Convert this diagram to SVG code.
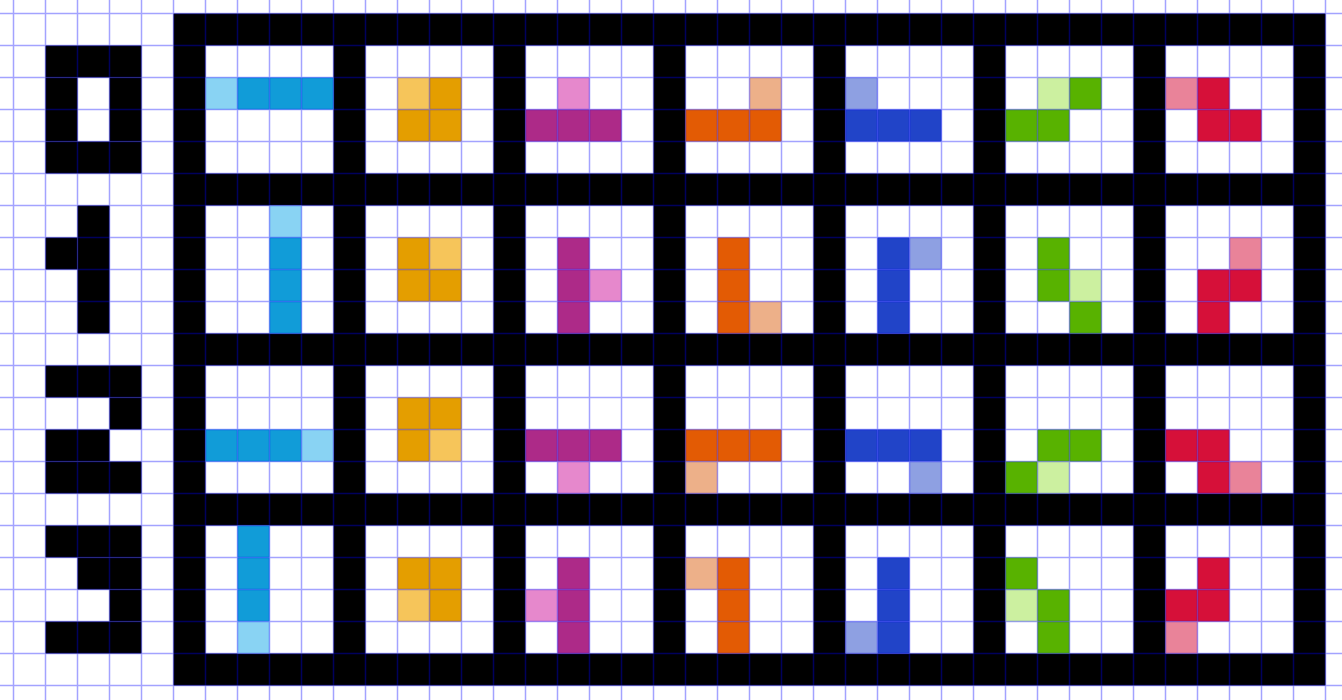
<svg xmlns="http://www.w3.org/2000/svg" width="1342" height="700" viewBox="0 0 1342 700">
<style>
.k{fill:#000}
.w{fill:#fff}
.Im{fill:#119cd8}.Il{fill:#89d3f3}
.Om{fill:#e49e00}.Ol{fill:#f6c55a}
.Tm{fill:#ad2a88}.Tl{fill:#e688cc}
.Lm{fill:#e35b04}.Ll{fill:#edb089}
.Jm{fill:#2144c8}.Jl{fill:#8ea0e2}
.Sm{fill:#58b200}.Sl{fill:#ccf0a0}
.Zm{fill:#d61039}.Zl{fill:#e98399}
.grid{fill:none;stroke:#0000ff;stroke-opacity:0.36;stroke-width:1.5}
</style>
<defs>
<rect id="c" width="32" height="32"/>
</defs>
<rect width="1342" height="700" fill="#fff"/>
<g id="digits" class="k">
<g id="digit0"><rect x="45.5" y="45.5" width="96" height="32"/><rect x="45.5" y="141.5" width="96" height="32"/><rect x="45.5" y="77.5" width="32" height="64"/><rect x="109.5" y="77.5" width="32" height="64"/></g>
<g id="digit1"><rect x="77.5" y="205.5" width="32" height="128"/><rect x="45.5" y="237.5" width="32" height="32"/></g>
<g id="digit2"><rect x="45.5" y="365.5" width="96" height="32"/><rect x="109.5" y="397.5" width="32" height="32"/><rect x="45.5" y="429.5" width="64" height="32"/><rect x="45.5" y="461.5" width="96" height="32"/></g>
<g id="digit3"><rect x="45.5" y="525.5" width="96" height="32"/><rect x="77.5" y="557.5" width="64" height="32"/><rect x="109.5" y="589.5" width="32" height="32"/><rect x="45.5" y="621.5" width="96" height="32"/></g>
</g>
<g id="frame">
<rect class="k" x="173.5" y="13.5" width="1152" height="672"/>
<g class="w">
<rect x="205.5" y="45.5" width="128" height="128"/><rect x="365.5" y="45.5" width="128" height="128"/><rect x="525.5" y="45.5" width="128" height="128"/><rect x="685.5" y="45.5" width="128" height="128"/><rect x="845.5" y="45.5" width="128" height="128"/><rect x="1005.5" y="45.5" width="128" height="128"/><rect x="1165.5" y="45.5" width="128" height="128"/>
<rect x="205.5" y="205.5" width="128" height="128"/><rect x="365.5" y="205.5" width="128" height="128"/><rect x="525.5" y="205.5" width="128" height="128"/><rect x="685.5" y="205.5" width="128" height="128"/><rect x="845.5" y="205.5" width="128" height="128"/><rect x="1005.5" y="205.5" width="128" height="128"/><rect x="1165.5" y="205.5" width="128" height="128"/>
<rect x="205.5" y="365.5" width="128" height="128"/><rect x="365.5" y="365.5" width="128" height="128"/><rect x="525.5" y="365.5" width="128" height="128"/><rect x="685.5" y="365.5" width="128" height="128"/><rect x="845.5" y="365.5" width="128" height="128"/><rect x="1005.5" y="365.5" width="128" height="128"/><rect x="1165.5" y="365.5" width="128" height="128"/>
<rect x="205.5" y="525.5" width="128" height="128"/><rect x="365.5" y="525.5" width="128" height="128"/><rect x="525.5" y="525.5" width="128" height="128"/><rect x="685.5" y="525.5" width="128" height="128"/><rect x="845.5" y="525.5" width="128" height="128"/><rect x="1005.5" y="525.5" width="128" height="128"/><rect x="1165.5" y="525.5" width="128" height="128"/>
</g>
</g>
<!-- rotation 0 -->
<g id="I0" transform="translate(205.5,45.5)"><use href="#c" class="Il" x="0" y="32"/><use href="#c" class="Im" x="32" y="32"/><use href="#c" class="Im" x="64" y="32"/><use href="#c" class="Im" x="96" y="32"/></g>
<g id="O0" transform="translate(365.5,45.5)"><use href="#c" class="Ol" x="32" y="32"/><use href="#c" class="Om" x="64" y="32"/><use href="#c" class="Om" x="32" y="64"/><use href="#c" class="Om" x="64" y="64"/></g>
<g id="T0" transform="translate(525.5,45.5)"><use href="#c" class="Tl" x="32" y="32"/><use href="#c" class="Tm" x="0" y="64"/><use href="#c" class="Tm" x="32" y="64"/><use href="#c" class="Tm" x="64" y="64"/></g>
<g id="L0" transform="translate(685.5,45.5)"><use href="#c" class="Ll" x="64" y="32"/><use href="#c" class="Lm" x="0" y="64"/><use href="#c" class="Lm" x="32" y="64"/><use href="#c" class="Lm" x="64" y="64"/></g>
<g id="J0" transform="translate(845.5,45.5)"><use href="#c" class="Jl" x="0" y="32"/><use href="#c" class="Jm" x="0" y="64"/><use href="#c" class="Jm" x="32" y="64"/><use href="#c" class="Jm" x="64" y="64"/></g>
<g id="S0" transform="translate(1005.5,45.5)"><use href="#c" class="Sl" x="32" y="32"/><use href="#c" class="Sm" x="64" y="32"/><use href="#c" class="Sm" x="0" y="64"/><use href="#c" class="Sm" x="32" y="64"/></g>
<g id="Z0" transform="translate(1165.5,45.5)"><use href="#c" class="Zl" x="0" y="32"/><use href="#c" class="Zm" x="32" y="32"/><use href="#c" class="Zm" x="32" y="64"/><use href="#c" class="Zm" x="64" y="64"/></g>
<!-- rotation 1 -->
<g id="I1" transform="translate(205.5,205.5)"><use href="#c" class="Il" x="64" y="0"/><use href="#c" class="Im" x="64" y="32"/><use href="#c" class="Im" x="64" y="64"/><use href="#c" class="Im" x="64" y="96"/></g>
<g id="O1" transform="translate(365.5,205.5)"><use href="#c" class="Om" x="32" y="32"/><use href="#c" class="Ol" x="64" y="32"/><use href="#c" class="Om" x="32" y="64"/><use href="#c" class="Om" x="64" y="64"/></g>
<g id="T1" transform="translate(525.5,205.5)"><use href="#c" class="Tm" x="32" y="32"/><use href="#c" class="Tm" x="32" y="64"/><use href="#c" class="Tm" x="32" y="96"/><use href="#c" class="Tl" x="64" y="64"/></g>
<g id="L1" transform="translate(685.5,205.5)"><use href="#c" class="Lm" x="32" y="32"/><use href="#c" class="Lm" x="32" y="64"/><use href="#c" class="Lm" x="32" y="96"/><use href="#c" class="Ll" x="64" y="96"/></g>
<g id="J1" transform="translate(845.5,205.5)"><use href="#c" class="Jm" x="32" y="32"/><use href="#c" class="Jm" x="32" y="64"/><use href="#c" class="Jm" x="32" y="96"/><use href="#c" class="Jl" x="64" y="32"/></g>
<g id="S1" transform="translate(1005.5,205.5)"><use href="#c" class="Sm" x="32" y="32"/><use href="#c" class="Sm" x="32" y="64"/><use href="#c" class="Sm" x="64" y="96"/><use href="#c" class="Sl" x="64" y="64"/></g>
<g id="Z1" transform="translate(1165.5,205.5)"><use href="#c" class="Zl" x="64" y="32"/><use href="#c" class="Zm" x="32" y="64"/><use href="#c" class="Zm" x="64" y="64"/><use href="#c" class="Zm" x="32" y="96"/></g>
<!-- rotation 2 -->
<g id="I2" transform="translate(205.5,365.5)"><use href="#c" class="Im" x="0" y="64"/><use href="#c" class="Im" x="32" y="64"/><use href="#c" class="Im" x="64" y="64"/><use href="#c" class="Il" x="96" y="64"/></g>
<g id="O2" transform="translate(365.5,365.5)"><use href="#c" class="Om" x="32" y="32"/><use href="#c" class="Om" x="64" y="32"/><use href="#c" class="Om" x="32" y="64"/><use href="#c" class="Ol" x="64" y="64"/></g>
<g id="T2" transform="translate(525.5,365.5)"><use href="#c" class="Tm" x="0" y="64"/><use href="#c" class="Tm" x="32" y="64"/><use href="#c" class="Tm" x="64" y="64"/><use href="#c" class="Tl" x="32" y="96"/></g>
<g id="L2" transform="translate(685.5,365.5)"><use href="#c" class="Lm" x="0" y="64"/><use href="#c" class="Lm" x="32" y="64"/><use href="#c" class="Lm" x="64" y="64"/><use href="#c" class="Ll" x="0" y="96"/></g>
<g id="J2" transform="translate(845.5,365.5)"><use href="#c" class="Jm" x="0" y="64"/><use href="#c" class="Jm" x="32" y="64"/><use href="#c" class="Jm" x="64" y="64"/><use href="#c" class="Jl" x="64" y="96"/></g>
<g id="S2" transform="translate(1005.5,365.5)"><use href="#c" class="Sm" x="32" y="64"/><use href="#c" class="Sm" x="64" y="64"/><use href="#c" class="Sm" x="0" y="96"/><use href="#c" class="Sl" x="32" y="96"/></g>
<g id="Z2" transform="translate(1165.5,365.5)"><use href="#c" class="Zm" x="0" y="64"/><use href="#c" class="Zm" x="32" y="64"/><use href="#c" class="Zm" x="32" y="96"/><use href="#c" class="Zl" x="64" y="96"/></g>
<!-- rotation 3 -->
<g id="I3" transform="translate(205.5,525.5)"><use href="#c" class="Im" x="32" y="0"/><use href="#c" class="Im" x="32" y="32"/><use href="#c" class="Im" x="32" y="64"/><use href="#c" class="Il" x="32" y="96"/></g>
<g id="O3" transform="translate(365.5,525.5)"><use href="#c" class="Om" x="32" y="32"/><use href="#c" class="Om" x="64" y="32"/><use href="#c" class="Ol" x="32" y="64"/><use href="#c" class="Om" x="64" y="64"/></g>
<g id="T3" transform="translate(525.5,525.5)"><use href="#c" class="Tm" x="32" y="32"/><use href="#c" class="Tm" x="32" y="64"/><use href="#c" class="Tm" x="32" y="96"/><use href="#c" class="Tl" x="0" y="64"/></g>
<g id="L3" transform="translate(685.5,525.5)"><use href="#c" class="Ll" x="0" y="32"/><use href="#c" class="Lm" x="32" y="32"/><use href="#c" class="Lm" x="32" y="64"/><use href="#c" class="Lm" x="32" y="96"/></g>
<g id="J3" transform="translate(845.5,525.5)"><use href="#c" class="Jm" x="32" y="32"/><use href="#c" class="Jm" x="32" y="64"/><use href="#c" class="Jm" x="32" y="96"/><use href="#c" class="Jl" x="0" y="96"/></g>
<g id="S3" transform="translate(1005.5,525.5)"><use href="#c" class="Sm" x="0" y="32"/><use href="#c" class="Sl" x="0" y="64"/><use href="#c" class="Sm" x="32" y="64"/><use href="#c" class="Sm" x="32" y="96"/></g>
<g id="Z3" transform="translate(1165.5,525.5)"><use href="#c" class="Zm" x="32" y="32"/><use href="#c" class="Zm" x="0" y="64"/><use href="#c" class="Zm" x="32" y="64"/><use href="#c" class="Zl" x="0" y="96"/></g>
<g id="grid">
<path class="grid" d="M13.5 0V700M45.5 0V700M77.5 0V700M109.5 0V700M141.5 0V700M173.5 0V700M205.5 0V700M237.5 0V700M269.5 0V700M301.5 0V700M333.5 0V700M365.5 0V700M397.5 0V700M429.5 0V700M461.5 0V700M493.5 0V700M525.5 0V700M557.5 0V700M589.5 0V700M621.5 0V700M653.5 0V700M685.5 0V700M717.5 0V700M749.5 0V700M781.5 0V700M813.5 0V700M845.5 0V700M877.5 0V700M909.5 0V700M941.5 0V700M973.5 0V700M1005.5 0V700M1037.5 0V700M1069.5 0V700M1101.5 0V700M1133.5 0V700M1165.5 0V700M1197.5 0V700M1229.5 0V700M1261.5 0V700M1293.5 0V700M1325.5 0V700M0 13.5H1342M0 45.5H1342M0 77.5H1342M0 109.5H1342M0 141.5H1342M0 173.5H1342M0 205.5H1342M0 237.5H1342M0 269.5H1342M0 301.5H1342M0 333.5H1342M0 365.5H1342M0 397.5H1342M0 429.5H1342M0 461.5H1342M0 493.5H1342M0 525.5H1342M0 557.5H1342M0 589.5H1342M0 621.5H1342M0 653.5H1342M0 685.5H1342"/>
</g>
</svg>
